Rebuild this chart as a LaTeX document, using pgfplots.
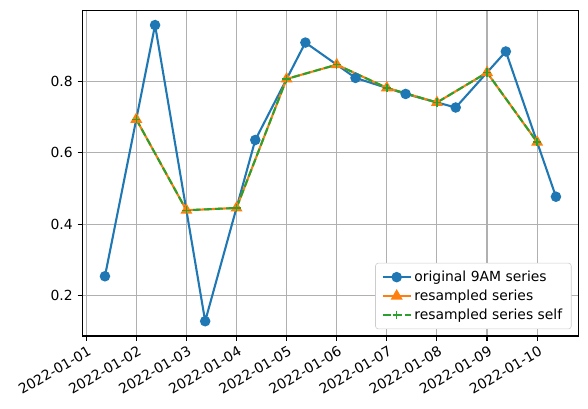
\documentclass[border=0pt]{standalone}
\usepackage{fontspec}
\setmainfont{DejaVu Sans}
\usepackage{pgfplots}
\pgfplotsset{compat=1.18}
\definecolor{c0}{HTML}{1F77B4}
\definecolor{c1}{HTML}{FF7F0E}
\definecolor{c2}{HTML}{2CA02C}
\definecolor{gridc}{HTML}{B0B0B0}
\begin{document}
\fontsize{10}{12}\selectfont
\begin{tikzpicture}
\begin{axis}[
  scale only axis, width=357pt, height=234.4pt,
  xmin=-0.075, xmax=9.825, ymin=0.0865, ymax=0.9995,
  xtick={0,1,2,3,4,5,6,7,8,9},
  xticklabels={2022-01-01,2022-01-02,2022-01-03,2022-01-04,2022-01-05,2022-01-06,2022-01-07,2022-01-08,2022-01-09,2022-01-10},
  ytick={0.2,0.4,0.6,0.8}, yticklabels={0.2,0.4,0.6,0.8},
  xticklabel style={rotate=30, anchor=north east, inner sep=1pt, yshift=-2pt},
  ticklabel style={font=\fontsize{10}{12}\selectfont},
  tick align=outside, major tick length=3.5pt,
  tick style={black, line width=0.8pt},
  xtick pos=left, ytick pos=left,
  axis line style={black, line width=0.8pt},
  grid=major, major grid style={gridc, line width=0.8pt},
  legend style={at={(0.986,0.021)}, anchor=south east, draw=black!20, rounded corners=2pt,
    font=\fontsize{10}{12}\selectfont, row sep=0.5pt, inner xsep=4.5pt, inner ysep=3.5pt,
    cells={anchor=west}},
  legend image code/.code={\draw[mark repeat=2,mark phase=2] plot coordinates {(0pt,0pt) (10pt,0pt) (20pt,0pt)};},
]
\addplot[c0, line width=1.5pt, mark=*, mark size=3pt, mark options={c0, fill=c0, solid}] coordinates {
  (0.375,0.254) (1.375,0.958) (2.375,0.128) (3.375,0.636) (4.375,0.909)
  (5.375,0.810) (6.375,0.765) (7.375,0.727) (8.375,0.884) (9.375,0.477)
};
\addlegendentry{original 9AM series}
\addplot[c1, line width=1.5pt, mark=triangle*, mark size=3.5pt, mark options={c1, fill=c1, solid}] coordinates {
  (1,0.694) (2,0.439) (3,0.4455) (4,0.807) (5,0.847) (6,0.782) (7,0.741) (8,0.825) (9,0.630)
};
\addlegendentry{resampled series}
\addplot[c2, line width=1.5pt, dash pattern=on 5.55pt off 2.4pt, mark=+, mark size=3pt, mark options={c2, solid, line width=1pt}] coordinates {
  (1,0.694) (2,0.439) (3,0.4455) (4,0.807) (5,0.847) (6,0.782) (7,0.741) (8,0.825) (9,0.630)
};
\addlegendentry{resampled series self}
\end{axis}
\pgfresetboundingbox
\useasboundingbox ([xshift=-59.3pt,yshift=-52pt]current axis.south west) rectangle ([xshift=6.84pt,yshift=7.4pt]current axis.north east);
\end{tikzpicture}
\end{document}
